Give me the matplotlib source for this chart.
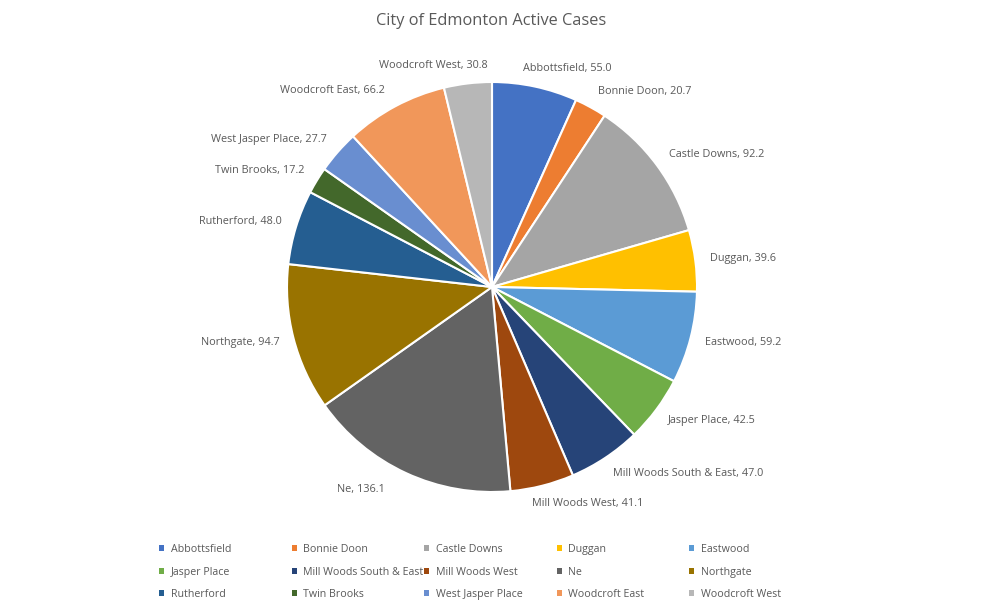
import numpy as np
import matplotlib.pyplot as plt
from matplotlib.transforms import ScaledTranslation

plt.rcParams['font.family'] = ['Open Sans', 'DejaVu Sans']

# neighbourhoods and active cases, clockwise from 12 o'clock
areas = ['Abbottsfield', 'Bonnie Doon', 'Castle Downs', 'Duggan', 'Eastwood',
         'Jasper Place', 'Mill Woods South & East', 'Mill Woods West', 'Ne',
         'Northgate', 'Rutherford', 'Twin Brooks', 'West Jasper Place',
         'Woodcroft East', 'Woodcroft West']
cases = [55.0, 20.7, 92.2, 39.6, 59.2, 42.5, 47.0, 41.1, 136.1, 94.7,
         48.0, 17.2, 27.7, 66.2, 30.8]
colors = ['#4472C4', '#ED7D31', '#A5A5A5', '#FFC000', '#5B9BD5', '#70AD47',
          '#264478', '#9E480E', '#636363', '#997300', '#255E91', '#43682B',
          '#698ED0', '#F1975A', '#B7B7B7']

txt = '#595959'
# Excel "best fit" moves a few labels sideways (pixels)
nudge_x = {'Abbottsfield': -15, 'Mill Woods West': -14, 'Ne': -15,
           'Woodcroft West': 22, 'Woodcroft East': -4}

fig = plt.figure(figsize=(9.82, 6.11), dpi=100, facecolor='w')
# axes box just the size of the pie
ax = fig.add_axes([287 / 982, 1 - 492 / 611, 410 / 982, 410 / 611])

labels = [f'{a}, {v:.1f}' for a, v in zip(areas, cases)]
wedges, texts = ax.pie(cases, labels=labels, colors=colors, startangle=90,
                       counterclock=False, labeldistance=1.07,
                       wedgeprops=dict(edgecolor='white', linewidth=1.5),
                       textprops=dict(color=txt, fontsize=7.8))
ax.set_xlim(-1, 1)
ax.set_ylim(-1, 1)
ax.set_aspect('equal')

# push labels so their box, not their centre, sits off the rim
for w, t, a in zip(wedges, texts, areas):
    th = np.deg2rad((w.theta1 + w.theta2) / 2)
    dy = np.sin(th) * 4.0 / 100
    dx = nudge_x.get(a, 0) / 100
    t.set_transform(ax.transData + ScaledTranslation(dx, dy, fig.dpi_scale_trans))

fig.text(0.5, 0.965, 'City of Edmonton Active Cases', ha='center', va='center',
         fontsize=11.8, color=txt)

# legend: 5 fixed-width columns, filled row by row
ncol = 5
for c in range(ncol):
    idx = list(range(c, len(areas), ncol))
    leg = fig.legend([wedges[i] for i in idx], [areas[i] for i in idx],
                     loc='upper left', bbox_to_anchor=((159 + 132.5 * c) / 982, 1 - 544 / 611),
                     frameon=False, fontsize=7.7, labelcolor=txt,
                     handlelength=0.5, handleheight=0.5, handletextpad=0.6,
                     labelspacing=1.08, borderpad=0, borderaxespad=0)
    for h in leg.legend_handles:
        h.set_linewidth(0)

fig.savefig('out.png', dpi=100)
